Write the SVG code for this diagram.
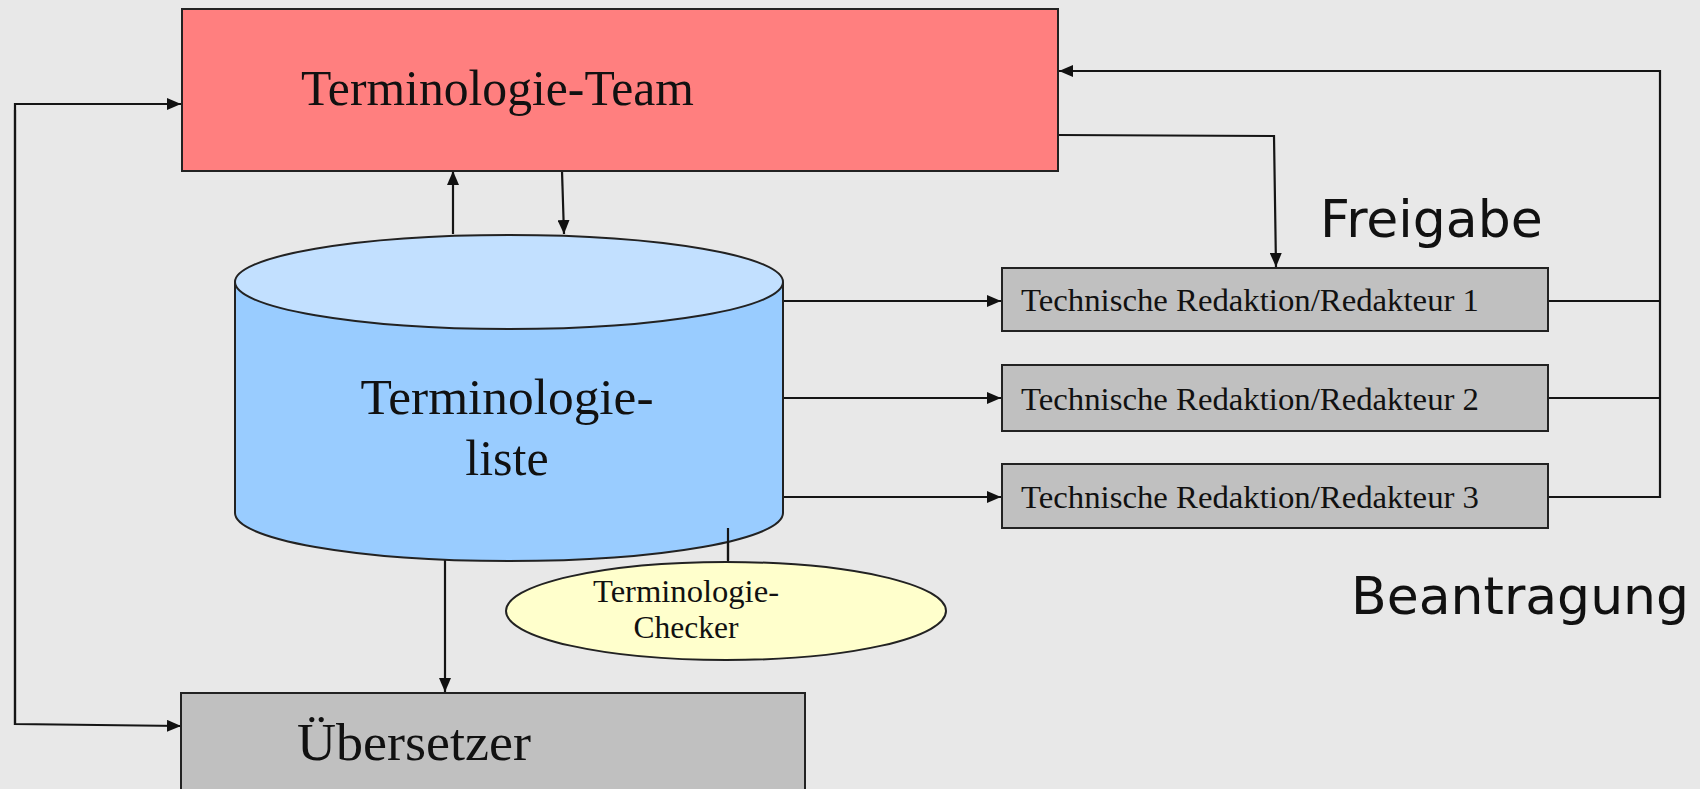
<svg xmlns="http://www.w3.org/2000/svg" width="1700" height="789" viewBox="0 0 1700 789">
  <defs>
    <marker id="arrow" viewBox="0 0 14 12" refX="14" refY="6" markerWidth="14" markerHeight="12" markerUnits="userSpaceOnUse" orient="auto">
      <path d="M0,0 L14,6 L0,12 z" fill="#111"/>
    </marker>
    <style>
      .box { stroke: #222; stroke-width: 2; }
      .conn { fill: none; stroke: #151515; stroke-width: 2.2; }
      .serif { font-family: "Liberation Serif", "Times New Roman", serif; fill: #111; }
      .sans { font-family: "DejaVu Sans", "Liberation Sans", sans-serif; fill: #111; }
    </style>
  </defs>

  <rect x="0" y="0" width="1700" height="789" fill="#e8e8e8"/>

  <!-- connectors -->
  <g id="connectors">
    <!-- left loop: Terminologie-Team and Übersetzer -->
    <polyline class="conn" points="15,725 15,104 181,104" marker-end="url(#arrow)"/>
    <polyline class="conn" points="15,110 15,724 181,726" marker-end="url(#arrow)"/>
    <!-- list up to team -->
    <line class="conn" x1="453" y1="234" x2="453" y2="171" marker-end="url(#arrow)"/>
    <!-- team down to list -->
    <line class="conn" x1="562" y1="171" x2="564" y2="234" marker-end="url(#arrow)"/>
    <!-- list to editors -->
    <line class="conn" x1="783" y1="301" x2="1001" y2="301" marker-end="url(#arrow)"/>
    <line class="conn" x1="783" y1="398" x2="1001" y2="398" marker-end="url(#arrow)"/>
    <line class="conn" x1="783" y1="497" x2="1001" y2="497" marker-end="url(#arrow)"/>
    <!-- Freigabe: team to editor 1 -->
    <polyline class="conn" points="1058,135 1274,136 1276,267" marker-end="url(#arrow)"/>
    <!-- Beantragung: editors back to team -->
    <line class="conn" x1="1548" y1="301" x2="1660" y2="301"/>
    <line class="conn" x1="1548" y1="398" x2="1660" y2="398"/>
    <polyline class="conn" points="1548,497 1660,497 1660,71 1059,71" marker-end="url(#arrow)"/>
    <!-- list down to translator -->
    <line class="conn" x1="445" y1="557" x2="445" y2="692" marker-end="url(#arrow)"/>
    <!-- checker attached to list -->
    <line class="conn" x1="728" y1="528" x2="728" y2="562"/>
  </g>

  <g id="team">
    <rect class="box" x="182" y="9" width="876" height="162" fill="#ff7f7f"/>
    <text class="serif" x="301" y="105" font-size="50" textLength="393" lengthAdjust="spacingAndGlyphs">Terminologie-Team</text>
  </g>

  <g id="terminologieliste">
    <path class="box" d="M235,282 L235,513 A274,48 0 0 0 783,513 L783,282" fill="#99ccff"/>
    <ellipse class="box" cx="509" cy="282" rx="274" ry="47" fill="#c2e0ff"/>
    <line class="conn" x1="728" y1="528" x2="728" y2="560"/>
    <text class="serif" x="507" y="414" font-size="50" text-anchor="middle" textLength="293" lengthAdjust="spacingAndGlyphs">Terminologie-</text>
    <text class="serif" x="507" y="475" font-size="50" text-anchor="middle">liste</text>
  </g>

  <g id="checker">
    <ellipse class="box" cx="726" cy="611" rx="220" ry="49" fill="#ffffcc"/>
    <text class="serif" x="686" y="602" font-size="31" text-anchor="middle" textLength="186" lengthAdjust="spacingAndGlyphs">Terminologie-</text>
    <text class="serif" x="686" y="638" font-size="31" text-anchor="middle" textLength="105" lengthAdjust="spacingAndGlyphs">Checker</text>
  </g>

  <g id="redakteur1">
    <rect class="box" x="1002" y="268" width="546" height="63" fill="#c0c0c0"/>
    <text class="serif" x="1021" y="311" font-size="32" textLength="458" lengthAdjust="spacingAndGlyphs">Technische Redaktion/Redakteur 1</text>
  </g>
  <g id="redakteur2">
    <rect class="box" x="1002" y="365" width="546" height="66" fill="#c0c0c0"/>
    <text class="serif" x="1021" y="410" font-size="32" textLength="458" lengthAdjust="spacingAndGlyphs">Technische Redaktion/Redakteur 2</text>
  </g>
  <g id="redakteur3">
    <rect class="box" x="1002" y="464" width="546" height="64" fill="#c0c0c0"/>
    <text class="serif" x="1021" y="508" font-size="32" textLength="458" lengthAdjust="spacingAndGlyphs">Technische Redaktion/Redakteur 3</text>
  </g>

  <g id="uebersetzer">
    <rect class="box" x="181" y="693" width="624" height="110" fill="#c0c0c0"/>
    <text class="serif" x="297" y="760" font-size="52" textLength="234" lengthAdjust="spacingAndGlyphs">Übersetzer</text>
  </g>

  <g id="labels">
    <text class="sans" x="1320" y="237" font-size="52">Freigabe</text>
    <text class="sans" x="1351" y="614" font-size="52">Beantragung</text>
  </g>
</svg>
